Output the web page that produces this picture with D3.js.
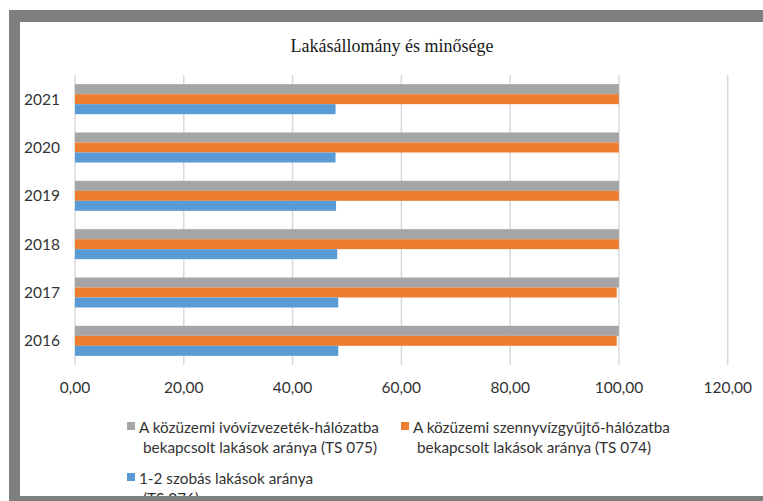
<!DOCTYPE html>
<html>
<head>
<meta charset="utf-8">
<script src="https://cdn.jsdelivr.net/npm/d3@7"></script>
<style>
  body { margin: 0; background: #fff; }
  svg text { font-family: Lato, "Open Sans", sans-serif; fill: #333; }
</style>
</head>
<body>
<div id="chart"></div>
<script>
// data
const years = ['2016', '2017', '2018', '2019', '2020', '2021'];
const ts075 = [100, 100, 100, 100, 100, 100];          // ivóvízvezeték
const ts074 = [99.6, 99.6, 100, 100, 100, 100];         // szennyvízgyűjtő
const ts076 = [48.4, 48.4, 48.2, 48.0, 47.9, 47.9];     // 1-2 szobás
const xTicks = [0, 20, 40, 60, 80, 100, 120];
const seriesNames = [
  ['A közüzemi ivóvízvezeték-hálózatba', 'bekapcsolt lakások aránya (TS 075)'],
  ['A közüzemi szennyvízgyűjtő-hálózatba', 'bekapcsolt lakások aránya (TS 074)'],
  ['1-2 szobás lakások aránya', '(TS 076)']
];
const colors = ['#a5a5a5', '#ed7d31', '#5b9bd5'];

const W = 763, H = 501;
const svg = d3.select('#chart').append('svg')
  .attr('width', W)
  .attr('height', H);

svg.append('rect').attr('width', W).attr('height', H).style('fill', '#fff');

svg.append('text')
  .attr('x', 392)
  .attr('y', 52)
  .attr('text-anchor', 'middle')
  .style('font-family', '"Liberation Serif", "Times New Roman", serif')
  .style('font-size', '18px')
  .style('fill', '#1a1a1a')
  .text('Lakásállomány és minősége');

const x = d3.scaleLinear().domain([0, 120]).range([75, 727.7]);
const y = d3.scaleBand().domain(years.slice().reverse()).range([75, 365]);
const inner = d3.scaleBand().domain([0, 1, 2]).range([0, 30]);

// gridlines
svg.append('g').selectAll('line')
  .data(xTicks)
  .enter()
  .append('line')
  .attr('x1', d => x(d)).attr('x2', d => x(d))
  .attr('y1', 75).attr('y2', 365)
  .style('stroke', '#d9d9d9')
  .style('stroke-width', 1.5);

// x tick labels
svg.append('g').selectAll('text')
  .data(xTicks)
  .enter()
  .append('text')
  .attr('x', d => x(d))
  .attr('y', 393)
  .attr('text-anchor', 'middle')
  .style('font-size', '15.5px')
  .text(d => d3.format('.2f')(d).replace('.', ','));

// year labels
svg.append('g').selectAll('text')
  .data(years)
  .enter()
  .append('text')
  .attr('x', 60)
  .attr('y', d => y(d) + y.bandwidth() / 2 + 5.5)
  .attr('text-anchor', 'end')
  .style('font-size', '15.5px')
  .text(d => d);

// bars
const series = [ts075, ts074, ts076];
const pad = (y.bandwidth() - 30) / 2;
series.forEach((vals, s) => {
  svg.append('g').selectAll('rect')
    .data(vals)
    .enter()
    .append('rect')
    .attr('x', x(0))
    .attr('y', (d, i) => y(years[i]) + pad + inner(s))
    .attr('width', d => x(d) - x(0))
    .attr('height', inner.bandwidth())
    .style('fill', colors[s]);
});

// legend
const legPos = [[127, 422], [401, 422], [127, 473]];
seriesNames.forEach((lines, s) => {
  const g = svg.append('g').attr('transform', `translate(${legPos[s][0]},${legPos[s][1]})`);
  g.append('rect')
    .attr('x', 0).attr('y', 0)
    .attr('width', 8).attr('height', 8)
    .style('fill', colors[s]);
  g.selectAll('text')
    .data(lines)
    .enter()
    .append('text')
    .attr('x', (d, i) => i === 0 ? 12 : 16)
    .attr('y', (d, i) => 10.5 + i * 20)
    .style('font-size', '15.3px')
    .text(d => d);
});

// frame
const frame = svg.append('g').style('fill', '#7f7f7f');
frame.append('rect').attr('x', 9).attr('y', 10).attr('width', W - 9).attr('height', 12);
frame.append('rect').attr('x', 9).attr('y', 10).attr('width', 11).attr('height', H - 10);
frame.append('rect').attr('x', 9).attr('y', 496).attr('width', W - 9).attr('height', 5);
</script>
</body>
</html>
